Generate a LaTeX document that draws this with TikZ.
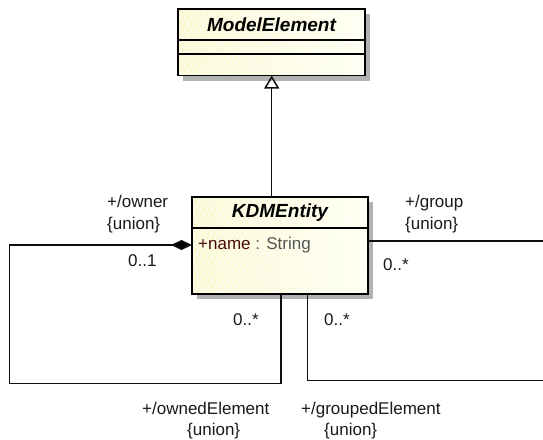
\documentclass[tikz,border=0pt]{standalone}
\usepackage{fontspec}
\setmainfont{Liberation Sans}
\usetikzlibrary{shadows,patterns.meta,arrows.meta}
\definecolor{boxL}{RGB}{251,249,212}
\definecolor{boxR}{RGB}{255,255,242}
\definecolor{shad}{RGB}{178,178,178}
\definecolor{attr}{RGB}{75,10,10}
\definecolor{typ}{RGB}{85,85,85}
\definecolor{lbl}{RGB}{25,25,25}
\definecolor{ln}{RGB}{15,15,15}
\begin{document}
\begin{tikzpicture}[x=1pt,y=-1pt,
  classbox/.style={draw=black, line width=1.6pt, inner sep=0pt, outer sep=0pt,
    drop shadow={shadow xshift=5pt, shadow yshift=-5pt, fill=shad, opacity=1},
    preaction={left color=boxL, right color=boxR},
    preaction={pattern={Lines[angle=65,distance=5pt,line width=0.7pt]}, pattern color=white}},
  titletxt/.style={font=\fontsize{19}{22}\selectfont\bfseries\itshape, text=black, inner sep=0pt},
  lbltxt/.style={font=\fontsize{17}{20}\selectfont, text=lbl, inner sep=0pt, anchor=base west},
  sepline/.style={draw=black, line width=1.5pt},
  conn/.style={draw=ln, line width=1.5pt}]
\useasboundingbox (0,0) rectangle (543,439);
% classes
\node[classbox, minimum width=187pt, minimum height=66.5pt, anchor=north west] (me) at (178,9) {};
\node[titletxt] (metitle) at (271.5,25) {ModelElement};
\coordinate (s1) at (0,40);
\coordinate (s2) at (0,54);
\draw[sepline] (me.west |- s1) -- (me.east |- s1);
\draw[sepline] (me.west |- s2) -- (me.east |- s2);

\node[classbox, minimum width=176pt, minimum height=97pt, anchor=north west] (kdm) at (192,197) {};
\node[titletxt] (kdmtitle) at (280,212.5) {KDMEntity};
\coordinate (s3) at (0,228);
\draw[sepline] (kdm.west |- s3) -- (kdm.east |- s3);
\node[lbltxt] (attrname) at (198,249) {\textcolor{attr}{+name}\ \textcolor{typ}{: String}};

% generalization
\coordinate (gx) at (271.7,0);
\draw[conn, -{Triangle[open, length=13pt, width=15pt, line width=1.5pt]}] (kdm.north -| gx) -- (me.south -| gx);

% owner / ownedElement (composition)
\coordinate (c1) at (9.3,245);
\coordinate (c2) at (281,383.3);
\draw[conn, {Diamond[length=21pt, width=10pt, fill=black]}-] (kdm.west |- c1) -- (c1) |- (c2) -- (kdm.south -| c2);

% group / groupedElement
\coordinate (g1) at (547,241);
\coordinate (g2) at (307.7,380.7);
\draw[conn] (kdm.east |- g1) -- (g1) |- (g2) -- (kdm.south -| g2);

% labels
\node[lbltxt] (lowner) at (107,207) {+/owner};
\node[lbltxt] (lownerU) at (107,229.5) {\{union\}};
\node[lbltxt] (lownerM) at (128,266.5) {0..1};
\node[lbltxt] (lgroup) at (405,207) {+/group};
\node[lbltxt] (lgroupU) at (405,229.5) {\{union\}};
\node[lbltxt] (lgroupM) at (383,270) {0..*};
\node[lbltxt] (lownedM) at (233,325) {0..*};
\node[lbltxt] (lgroupedM) at (324,325) {0..*};
\node[lbltxt] (lowned) at (142,414) {+/ownedElement};
\node[lbltxt] (lownedU) at (187,435.5) {\{union\}};
\node[lbltxt] (lgrouped) at (301,414) {+/groupedElement};
\node[lbltxt] (lgroupedU) at (324,435.5) {\{union\}};
\end{tikzpicture}
\end{document}
